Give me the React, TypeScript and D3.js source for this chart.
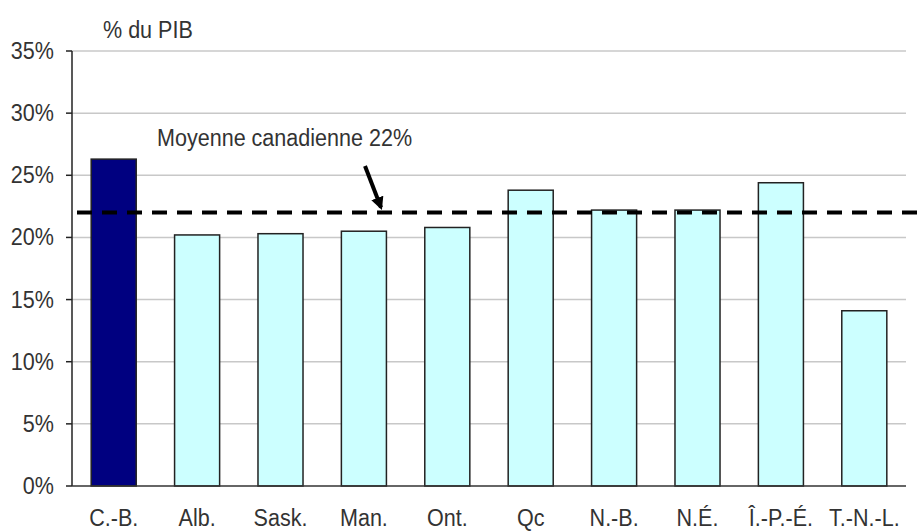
import React from "react";
import * as d3 from "d3";

const categories = ["C.-B.", "Alb.", "Sask.", "Man.", "Ont.", "Qc", "N.-B.", "N.É.", "Î.-P.-É.", "T.-N.-L."];
const values = [26.3, 20.2, 20.3, 20.5, 20.8, 23.8, 22.2, 22.2, 24.4, 14.1];
const highlight = ["C.-B."];
const yTicks = [0, 5, 10, 15, 20, 25, 30, 35];
const averageValue = 22;
const averageLabel = "Moyenne canadienne 22%";
const yAxisTitle = "% du PIB";

const W = 919;
const H = 532;
const left = 72;
const right = 906;
const top = 51;
const bottom = 486;
const FONT = "'Liberation Sans', Arial, sans-serif";

function Txt({ x, y, anchor = "start", children, size = 22 }: any) {
  return (
    <g transform={`translate(${x},${y}) scale(0.98,1.06)`}>
      <text x={0} y={0} textAnchor={anchor} fontFamily={FONT} fontSize={size} fill="#333">
        {children}
      </text>
    </g>
  );
}

export default function App() {
  const y = d3.scaleLinear().domain([0, 35]).range([bottom, top]);
  const x = d3
    .scaleBand<string>()
    .domain(categories)
    .range([left, right])
    .paddingInner(0.46)
    .paddingOuter(0.23);
  const avgY = y(averageValue);

  return (
    <svg width={W} height={H} style={{ position: "absolute", left: 0, top: 0, background: "#fff" }}>
      {yTicks.filter((t) => t > 0).map((t) => (
        <line key={"g" + t} x1={left} x2={right} y1={y(t)} y2={y(t)} stroke="#c8c8c8" strokeWidth={1.5} />
      ))}
      {categories.map((c, i) => (
        <rect
          key={c}
          x={x(c)}
          y={y(values[i])}
          width={x.bandwidth()}
          height={bottom - y(values[i])}
          fill={highlight.includes(c) ? "#000080" : "#ccffff"}
          stroke="#222"
          strokeWidth={1.5}
        />
      ))}
      <line x1={left} x2={left} y1={top} y2={bottom} stroke="#222" strokeWidth={1.5} />
      <line x1={left} x2={right} y1={bottom} y2={bottom} stroke="#333" strokeWidth={1.5} />
      {yTicks.map((t) => (
        <g key={"t" + t}>
          <line x1={left - 6} x2={left} y1={y(t)} y2={y(t)} stroke="#222" strokeWidth={1.5} />
          <Txt x={54} y={y(t) + 8} anchor="end">{t + "%"}</Txt>
        </g>
      ))}
      {categories.map((c) => (
        <Txt key={"l" + c} x={(x(c) as number) + x.bandwidth() / 2} y={526} anchor="middle">
          {c}
        </Txt>
      ))}
      <Txt x={103} y={38}>{yAxisTitle}</Txt>
      <line x1={77} x2={W} y1={avgY} y2={avgY} stroke="#000" strokeWidth={4} strokeDasharray="15 10" />
      <defs>
        <marker id="arr" viewBox="0 0 10 10" refX={8} refY={5} markerWidth={3.2} markerHeight={3.2} orient="auto">
          <path d="M0,0 L10,5 L0,10 z" fill="#000" />
        </marker>
      </defs>
      <line x1={365} y1={166} x2={381} y2={avgY - 5} stroke="#000" strokeWidth={4} markerEnd="url(#arr)" />
      <Txt x={157} y={146}>{averageLabel}</Txt>
    </svg>
  );
}
